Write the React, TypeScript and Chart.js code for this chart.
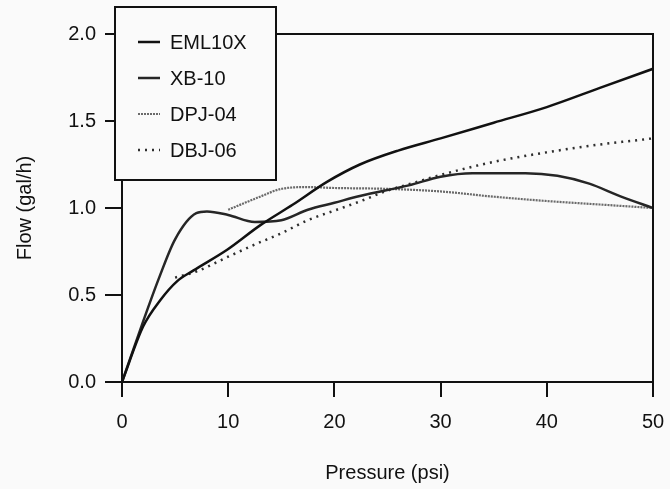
import React, { useEffect, useRef } from 'react';
import { Chart, registerables } from 'chart.js';

Chart.register(...registerables);

// Flow vs. pressure curves for four emitters
const seriesNames = ['EML10X', 'XB-10', 'DPJ-04', 'DBJ-06'];

const emlPressure = [0, 2, 3.6, 5.2, 6.7, 9.9, 13, 16.1, 19.3, 22.4, 26, 30, 35, 40, 45, 50];
const emlFlow = [0, 0.32, 0.47, 0.58, 0.64, 0.76, 0.9, 1.02, 1.15, 1.25, 1.33, 1.4, 1.49, 1.58, 1.69, 1.8];

const xbPressure = [0, 2, 3.5, 5, 7, 8, 10, 12.5, 15, 17.5, 20, 22.5, 27, 30, 33, 38, 41, 44, 47, 50];
const xbFlow = [0, 0.35, 0.6, 0.82, 0.97, 0.98, 0.96, 0.92, 0.93, 0.99, 1.03, 1.07, 1.13, 1.18, 1.2, 1.2, 1.185, 1.14, 1.065, 1.0];

const dpjPressure = [10, 13, 15, 17.5, 20, 25, 30, 35, 40, 45, 50];
const dpjFlow = [0.99, 1.065, 1.11, 1.12, 1.115, 1.11, 1.095, 1.065, 1.04, 1.02, 1.0];

const dbjPressure = [5, 7, 10, 12.5, 15, 17.5, 20, 22.5, 25, 27.5, 30, 35, 40, 45, 50];
const dbjFlow = [0.6, 0.635, 0.72, 0.79, 0.855, 0.93, 0.985, 1.04, 1.1, 1.145, 1.19, 1.265, 1.32, 1.365, 1.4];

const xTicks = [0, 10, 20, 30, 40, 50];
const yTicks = [0, 0.5, 1.0, 1.5, 2.0];

const BG = '#fafafa';
const INK = '#111111';
const TEXT = '#111111';
const FONT = '"Liberation Sans", Arial, Helvetica, sans-serif';

const toPoints = (xs: number[], ys: number[]) => xs.map((x, i) => ({ x, y: ys[i] }));

// Top and right edges of the plot frame
const framePlugin = {
  id: 'frame',
  afterDatasetsDraw(chart: any) {
    const { ctx, chartArea: a } = chart;
    ctx.save();
    ctx.strokeStyle = INK;
    ctx.lineWidth = 2;
    ctx.beginPath();
    ctx.moveTo(a.left, a.top);
    ctx.lineTo(a.right, a.top);
    ctx.lineTo(a.right, a.bottom);
    ctx.stroke();
    ctx.restore();
  },
};

// Boxed legend sitting over the upper-left corner
const boxLegendPlugin = {
  id: 'boxLegend',
  afterDraw(chart: any) {
    const { ctx } = chart;
    const bx = 115, by = 7, bw = 161, bh = 173;
    ctx.save();
    ctx.fillStyle = BG;
    ctx.fillRect(bx, by, bw, bh);
    ctx.strokeStyle = INK;
    ctx.lineWidth = 2;
    ctx.strokeRect(bx, by, bw, bh);
    chart.data.datasets.forEach((ds: any, i: number) => {
      const y = 42 + i * 36;
      ctx.setLineDash(ds.borderDash || []);
      ctx.strokeStyle = ds.borderColor;
      ctx.lineWidth = ds.borderWidth;
      ctx.beginPath();
      ctx.moveTo(138, y);
      ctx.lineTo(160, y);
      ctx.stroke();
      ctx.setLineDash([]);
      ctx.fillStyle = TEXT;
      ctx.font = `20px ${FONT}`;
      ctx.textBaseline = 'middle';
      ctx.textAlign = 'left';
      ctx.fillText(ds.label, 170, y + 1);
    });
    ctx.restore();
  },
};

export default function App() {
  const canvasRef = useRef<HTMLCanvasElement | null>(null);

  useEffect(() => {
    document.body.style.margin = '0';
    document.body.style.background = BG;
    const canvas = canvasRef.current;
    if (!canvas) return;

    const lineCommon = {
      pointRadius: 0,
      fill: false,
      cubicInterpolationMode: 'monotone' as const,
    };

    const chart = new Chart(canvas, {
      type: 'line',
      data: {
        datasets: [
          { ...lineCommon, label: seriesNames[0], data: toPoints(emlPressure, emlFlow), borderColor: '#111111', borderWidth: 2.5 },
          { ...lineCommon, label: seriesNames[1], data: toPoints(xbPressure, xbFlow), borderColor: '#262626', borderWidth: 2.5 },
          { ...lineCommon, label: seriesNames[2], data: toPoints(dpjPressure, dpjFlow), borderColor: '#6a6a6a', borderWidth: 2.2, borderDash: [2, 1] },
          { ...lineCommon, label: seriesNames[3], data: toPoints(dbjPressure, dbjFlow), borderColor: '#2e2e2e', borderWidth: 2.5, borderDash: [2, 5] },
        ],
      },
      options: {
        responsive: false,
        animation: false,
        parsing: false as any,
        layout: { padding: { top: 34, right: 17, left: 0, bottom: 0 } },
        plugins: { legend: { display: false }, tooltip: { enabled: false } },
        scales: {
          x: {
            type: 'linear',
            min: 0,
            max: 50,
            afterBuildTicks: (s: any) => { s.ticks = xTicks.map((v) => ({ value: v })); },
            afterFit: (s: any) => {
              s.height = 107;
              s.paddingLeft = 0;
              s.paddingRight = 0;
            },
            ticks: { color: TEXT, font: { family: FONT, size: 20 }, padding: 13, maxRotation: 0 },
            grid: { drawOnChartArea: false, drawTicks: true, tickLength: 15, color: INK, lineWidth: 2 },
            border: { display: true, color: INK, width: 2 },
            title: { display: true, text: 'Pressure (psi)', color: TEXT, font: { family: FONT, size: 20 }, padding: { top: 0, bottom: 4 } },
          },
          y: {
            type: 'linear',
            min: 0,
            max: 2,
            afterBuildTicks: (s: any) => { s.ticks = yTicks.map((v) => ({ value: v })); },
            afterFit: (s: any) => {
              s.width = 122;
              s.paddingTop = 0;
              s.paddingBottom = 0;
            },
            ticks: { color: TEXT, font: { family: FONT, size: 20 }, padding: 9, callback: (v: any) => Number(v).toFixed(1) },
            grid: { drawOnChartArea: false, drawTicks: true, tickLength: 17, color: INK, lineWidth: 2 },
            border: { display: true, color: INK, width: 2 },
            title: { display: true, text: 'Flow (gal/h)', color: TEXT, font: { family: FONT, size: 20 }, padding: { top: 13, bottom: 0 } },
          },
        },
      },
      plugins: [framePlugin, boxLegendPlugin],
    });

    return () => chart.destroy();
  }, []);

  return (
    <div style={{ width: 670, height: 489 }}>
      <canvas ref={canvasRef} width={670} height={489} style={{ display: 'block' }} />
    </div>
  );
}
